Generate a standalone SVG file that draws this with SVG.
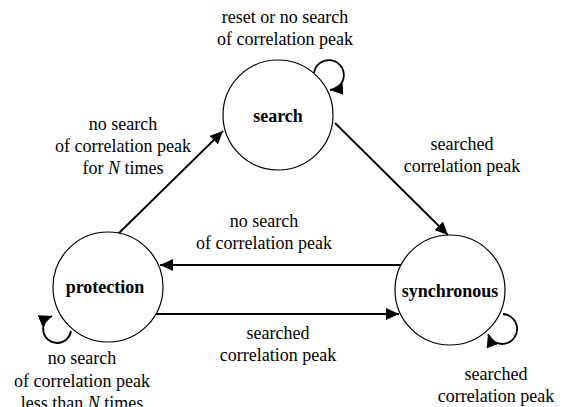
<svg xmlns="http://www.w3.org/2000/svg" width="568" height="407" viewBox="0 0 568 407">
<style>
.node{fill:#fff;stroke:#000;stroke-width:1.2}
.edge{fill:none;stroke:#000;stroke-width:1.8}
.lbl{font-family:"Liberation Serif","Times New Roman",serif;font-size:18px;fill:#000;text-anchor:middle}
.nl{font-family:"Liberation Serif","Times New Roman",serif;font-size:18px;font-weight:bold;fill:#000;text-anchor:middle}
</style>
<defs>
<marker id="ah" markerUnits="userSpaceOnUse" markerWidth="14" markerHeight="12" refX="13" refY="6" orient="auto">
<path d="M0,0 L13,6 L0,12 z" fill="#000"/>
</marker>
</defs>
<rect width="568" height="407" fill="#fff"/>
<g id="edges">
<path class="edge" d="M118,234 L223,131" marker-end="url(#ah)"/>
<path class="edge" d="M335,123 L448,235" marker-end="url(#ah)"/>
<path class="edge" d="M401,265 L160,265" marker-end="url(#ah)"/>
<path class="edge" d="M156,314 L399,314" marker-end="url(#ah)"/>
<path class="edge" d="M314,73 A15,15 0 1,1 330,90" marker-end="url(#ah)"/>
<path class="edge" d="M71,331 A14,14 0 1,1 52,316" marker-end="url(#ah)"/>
<path class="edge" d="M503,314 A15,15 0 1,1 488,334" marker-end="url(#ah)"/>
</g>
<g id="search">
<circle class="node" cx="278" cy="115" r="55" stroke-width="1.8"/>
<text class="nl" x="278" y="122">search</text>
</g>
<g id="protection">
<circle class="node" cx="108" cy="287" r="55"/>
<text class="nl" x="105" y="293">protection</text>
</g>
<g id="synchronous">
<circle class="node" cx="450" cy="290" r="55"/>
<text class="nl" x="450" y="297">synchronous</text>
</g>
<g id="labels">
<text class="lbl" x="285" y="23">reset or no search</text>
<text class="lbl" x="285" y="45">of correlation peak</text>
<text class="lbl" x="123" y="130">no search</text>
<text class="lbl" x="123" y="152">of correlation peak</text>
<text class="lbl" x="123" y="174">for <tspan font-style="italic">N</tspan> times</text>
<text class="lbl" x="462" y="150">searched</text>
<text class="lbl" x="462" y="172">correlation peak</text>
<text class="lbl" x="264" y="227">no search</text>
<text class="lbl" x="264" y="249">of correlation peak</text>
<text class="lbl" x="278" y="339">searched</text>
<text class="lbl" x="278" y="361">correlation peak</text>
<text class="lbl" x="82" y="364">no search</text>
<text class="lbl" x="82" y="387">of correlation peak</text>
<text class="lbl" x="82" y="409">less than <tspan font-style="italic">N</tspan> times</text>
<text class="lbl" x="496" y="380">searched</text>
<text class="lbl" x="496" y="402">correlation peak</text>
</g>
</svg>
